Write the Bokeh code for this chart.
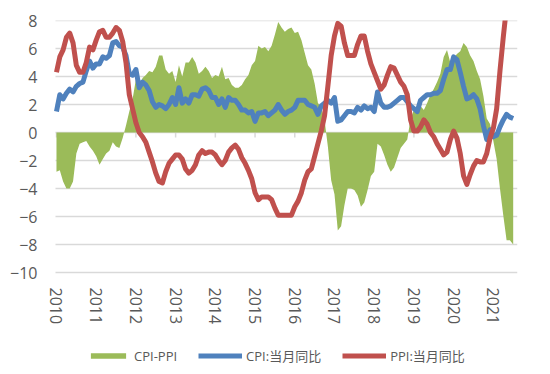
import math
from bokeh.plotting import figure
from bokeh.models import (ColumnDataSource, FixedTicker, Legend, LegendItem)
from bokeh.embed import file_html
from bokeh.resources import INLINE

years = ["2010", "2011", "2012", "2013", "2014", "2015", "2016", "2017", "2018", "2019", "2020", "2021"]

cpi = [1.5, 2.7, 2.4, 2.8, 3.1, 2.9, 3.3, 3.5, 3.6, 4.4, 5.1, 4.6,
       4.9, 4.9, 5.4, 5.3, 5.5, 6.4, 6.5, 6.2, 6.1, 5.5, 4.2, 4.1,
       4.5, 3.2, 3.6, 3.4, 3.0, 2.2, 1.8, 2.0, 1.9, 1.7, 2.0, 2.5,
       2.0, 3.2, 2.1, 2.4, 2.1, 2.7, 2.7, 2.6, 3.1, 3.2, 3.0, 2.5,
       2.5, 2.0, 2.4, 1.8, 2.5, 2.3, 2.3, 2.0, 1.6, 1.6, 1.4, 1.5,
       0.8, 1.4, 1.4, 1.5, 1.2, 1.4, 1.6, 2.0, 1.6, 1.3, 1.5, 1.6,
       1.8, 2.3, 2.3, 2.3, 2.0, 1.9, 1.8, 1.3, 1.9, 2.1, 2.3, 2.1,
       2.5, 0.8, 0.9, 1.2, 1.5, 1.5, 1.4, 1.8, 1.6, 1.9, 1.7, 1.8,
       1.5, 2.9, 2.1, 1.8, 1.8, 1.9, 2.1, 2.3, 2.5, 2.5, 2.2, 1.9,
       1.7, 1.5, 2.3, 2.5, 2.7, 2.7, 2.8, 2.8, 3.0, 3.8, 4.5, 4.5,
       5.4, 5.2, 4.3, 3.3, 2.4, 2.5, 2.7, 2.4, 1.7, 0.5, -0.5, 0.2,
       -0.3, -0.2, 0.4, 0.9, 1.3, 1.1, 1.0]

ppi = [4.3, 5.4, 5.9, 6.8, 7.1, 6.4, 4.8, 4.3, 4.3, 5.0, 6.1, 5.9,
       6.6, 7.2, 7.3, 6.8, 6.8, 7.1, 7.5, 7.3, 6.5, 5.0, 2.7, 1.7,
       0.7, 0.0, -0.3, -0.7, -1.4, -2.1, -2.9, -3.5, -3.6, -2.8, -2.2, -1.9,
       -1.6, -1.6, -1.9, -2.6, -2.9, -2.7, -2.3, -1.6, -1.3, -1.5, -1.4, -1.4,
       -1.6, -2.0, -2.3, -2.0, -1.4, -1.1, -0.9, -1.2, -1.8, -2.2, -2.7, -3.3,
       -4.3, -4.8, -4.6, -4.6, -4.6, -4.8, -5.4, -5.9, -5.9, -5.9, -5.9, -5.9,
       -5.3, -4.9, -4.3, -3.4, -2.8, -2.6, -1.7, -0.8, 0.1, 1.2, 3.3, 5.5,
       6.9, 7.8, 7.6, 6.4, 5.5, 5.5, 5.5, 6.3, 6.9, 6.9, 5.8, 4.9,
       4.3, 3.7, 3.1, 3.4, 4.1, 4.7, 4.6, 4.1, 3.6, 3.3, 2.7, 0.9,
       0.1, 0.1, 0.4, 0.9, 0.6, 0.0, -0.3, -0.8, -1.2, -1.6, -1.4, -0.5,
       0.1, -0.4, -1.5, -3.1, -3.7, -3.0, -2.4, -2.0, -2.1, -2.1, -1.5, -0.4,
       0.3, 1.7, 4.4, 6.8, 9.0, 8.8, 9.0]

y_ticks = [-10, -8, -6, -4, -2, 0, 2, 4, 6, 8]

months = list(range(len(cpi)))
spread = [round(c - q, 2) for c, q in zip(cpi, ppi)]
src = ColumnDataSource(dict(x=months, cpi=cpi, ppi=ppi, spread=spread, zero=[0] * len(cpi)))

year_pos = [12 * i for i in range(len(years))]

GREEN = "#9BBB59"
BLUE = "#4F81BD"
RED = "#C0504D"
GRID = "#D9D9D9"
TXT = "#595959"
FONT = "'Open Sans', 'Noto Sans CJK SC', sans-serif"

GRID_X0, GRID_X1 = -0.3, 139.3   # horizontal extent of the plotting area

# frame extends below -10 (labels, legend) and left of the data (first year label)
p = figure(width=542, height=366, output_backend="svg", toolbar_location=None,
           x_range=(-4.83, GRID_X1), y_range=(-16.71, 8),
           min_border_left=40, min_border_right=25, min_border_top=20, min_border_bottom=0)
p.outline_line_color = None
p.background_fill_color = "white"
p.border_fill_color = "white"

# y axis
p.yaxis.ticker = FixedTicker(ticks=y_ticks)
p.yaxis.axis_line_color = None
p.yaxis.major_tick_line_color = None
p.yaxis.minor_tick_line_color = None
p.yaxis.major_tick_out = 0
p.yaxis.major_tick_in = 0
p.yaxis.major_label_standoff = 3
p.yaxis.major_label_text_font = FONT
p.yaxis.major_label_text_font_size = "16px"
p.yaxis.major_label_text_color = TXT

# x axis: labels hung under the -10 gridline
p.xaxis.fixed_location = y_ticks[0]
p.xaxis.ticker = FixedTicker(ticks=year_pos)
p.xaxis.major_label_overrides = {pos: y for pos, y in zip(year_pos, years)}
p.xaxis.major_label_orientation = -math.pi / 2
p.xaxis.axis_line_color = None
p.xaxis.major_tick_line_color = None
p.xaxis.minor_tick_line_color = None
p.xaxis.major_tick_out = 0
p.xaxis.major_tick_in = 0
p.xaxis.major_label_standoff = 15
p.xaxis.major_label_text_font = FONT
p.xaxis.major_label_text_font_size = "16px"
p.xaxis.major_label_text_color = TXT

p.xgrid.grid_line_color = None
p.ygrid.grid_line_color = None

# horizontal gridlines over the plotting area
p.segment(x0=[GRID_X0] * len(y_ticks), x1=[GRID_X1] * len(y_ticks), y0=y_ticks, y1=y_ticks,
          line_color=GRID, line_width=1.5)

# year tick marks hanging from the zero line
p.segment(x0=year_pos, x1=year_pos, y0=[0] * len(year_pos), y1=[-0.36] * len(year_pos),
          line_color=GRID, line_width=1.5)

r_area = p.varea(x="x", y1="zero", y2="spread", source=src, fill_color=GREEN)
r_cpi = p.line(x="x", y="cpi", source=src, line_color=BLUE, line_width=5, line_join="round")
r_ppi = p.line(x="x", y="ppi", source=src, line_color=RED, line_width=5, line_join="round")

legend = Legend(items=[LegendItem(label="CPI-PPI", renderers=[r_area]),
                       LegendItem(label="CPI:当月同比", renderers=[r_cpi]),
                       LegendItem(label="PPI:当月同比", renderers=[r_ppi])],
                orientation="horizontal", location=(46, 1))
legend.glyph_width = 44
legend.glyph_height = 7
legend.label_standoff = 4
legend.spacing = 21
legend.padding = 0
legend.margin = 0
legend.border_line_color = None
legend.background_fill_alpha = 0
legend.label_text_font = FONT
legend.label_text_font_size = "13px"
legend.label_text_color = TXT
p.add_layout(legend, "center")

open("out.html", "w").write(file_html(p, INLINE))
